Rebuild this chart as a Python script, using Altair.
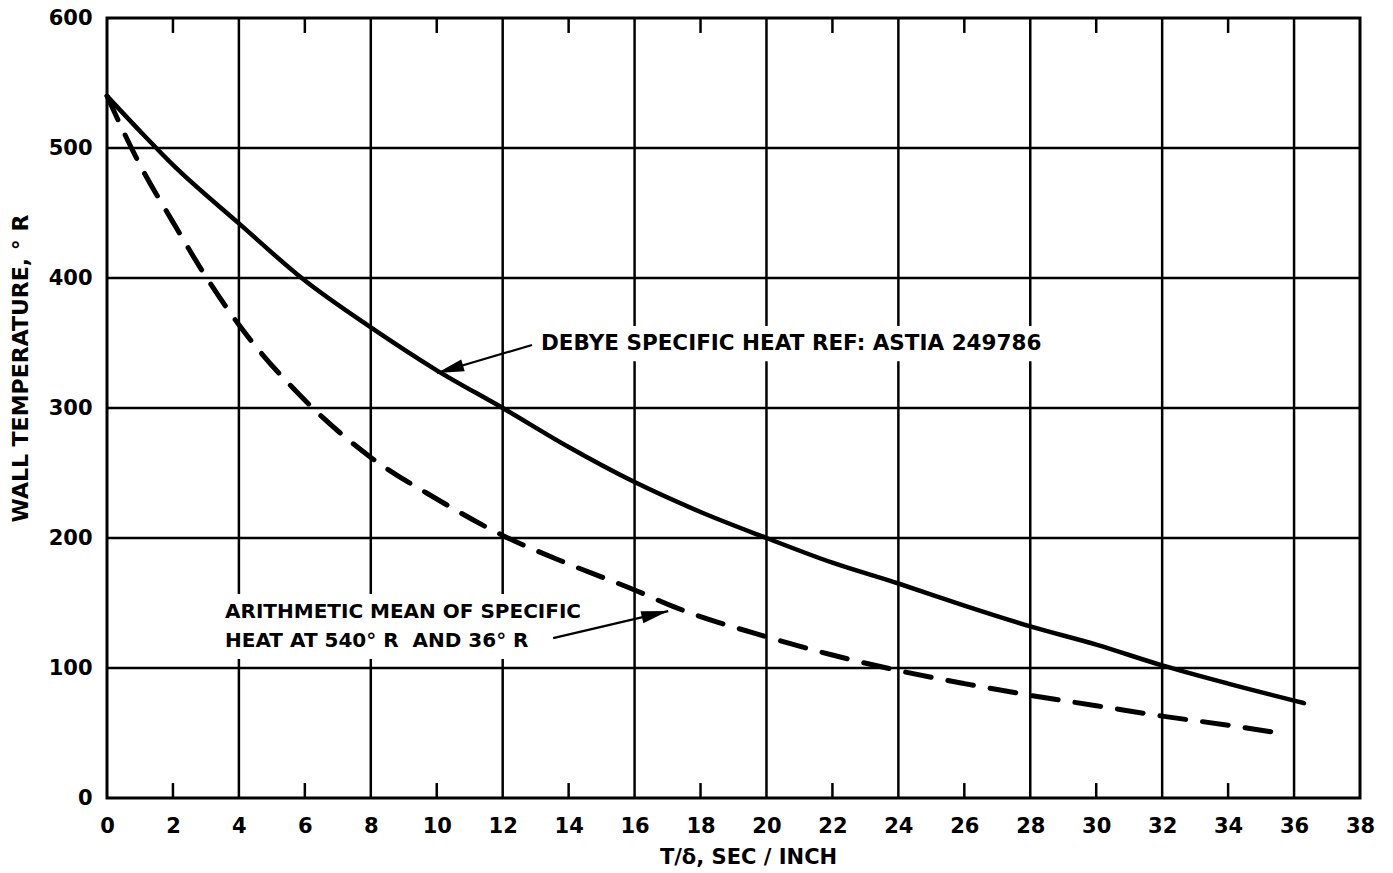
import math
import altair as alt
import pandas as pd

# Wall temperature vs. T/delta, two specific-heat models
x_debye = [0, 1, 2, 4, 6, 8, 10, 12, 14, 16, 18, 20, 22, 24, 26, 28, 30, 32, 34, 36.3]
t_debye = [540, 513, 487, 442, 398, 362, 329, 300, 270, 243, 220, 200, 181, 165, 148, 132, 118, 102, 88, 73]

x_mean = [0, 1, 2, 3, 4, 6, 8, 10, 12, 14, 16, 17.2, 20, 22, 24, 26, 28, 30, 32, 34, 35.8]
t_mean = [540, 487, 443, 401, 364, 306, 262, 230, 202, 180, 160, 147, 124, 110, 98, 88, 79, 71, 63, 56, 49]

# Grid and tick layout
x_ticks = list(range(0, 39, 2))
y_ticks = list(range(0, 601, 100))
x_grid = list(range(4, 37, 4))
y_grid = list(range(100, 501, 100))
x_minor = list(range(2, 35, 4))
minor_len = 11.5

# Annotations
debye_label = "DEBYE SPECIFIC HEAT REF: ASTIA 249786"
mean_label = ["ARITHMETIC MEAN OF SPECIFIC", "HEAT AT 540° R\u00a0\u00a0AND 36° R"]

W, H = 1253, 780
X_MAX, Y_MAX = 38, 600
FONT = "DejaVu Sans"

xs = alt.Scale(domain=[0, X_MAX], nice=False, zero=False)
ys = alt.Scale(domain=[0, Y_MAX], nice=False, zero=False)

x_axis = alt.Axis(values=x_ticks, grid=False, ticks=False, tickSize=0, domain=False,
                  labelPadding=34, labelBaseline="alphabetic", labelFlush=False,
                  labelOverlap=False, labelFont=FONT, labelFontWeight="bold",
                  labelFontSize=21, labelColor="black",
                  title="T/δ, SEC / INCH", titleFont=FONT, titleFontWeight="bold",
                  titleFontSize=21, titleColor="black", titleX=641, titleY=65,
                  titleBaseline="alphabetic", titleAlign="center")
y_axis = alt.Axis(values=y_ticks, grid=False, ticks=False, tickSize=0, domain=False,
                  labelPadding=15, labelFlush=False, labelOverlap=False,
                  labelFont=FONT, labelFontWeight="bold", labelFontSize=21,
                  labelColor="black",
                  title="WALL TEMPERATURE, ° R", titleFont=FONT, titleFontWeight="bold",
                  titleFontSize=22, titleColor="black", titleX=-80, titleY=350,
                  titleBaseline="alphabetic", titleAlign="center", titleAngle=270)

debye_df = pd.DataFrame({"x": x_debye, "t": t_debye})
mean_df = pd.DataFrame({"x": x_mean, "t": t_mean})

solid = alt.Chart(debye_df).mark_line(
    color="black", strokeWidth=4.5, strokeCap="round", interpolate="monotone"
).encode(x=alt.X("x:Q", scale=xs, axis=x_axis), y=alt.Y("t:Q", scale=ys, axis=y_axis))

dashed = alt.Chart(mean_df).mark_line(
    color="black", strokeWidth=5, strokeCap="round", strokeDash=[26, 17], interpolate="monotone"
).encode(x=alt.X("x:Q", scale=xs), y=alt.Y("t:Q", scale=ys))

vgrid = alt.Chart(pd.DataFrame({"x": x_grid})).mark_rule(color="black", strokeWidth=2.5).encode(
    x=alt.X("x:Q", scale=xs))
hgrid = alt.Chart(pd.DataFrame({"t": y_grid})).mark_rule(color="black", strokeWidth=2.5).encode(
    y=alt.Y("t:Q", scale=ys))

ticks_df = pd.DataFrame(
    {"x": x_minor * 2,
     "t": [0] * len(x_minor) + [Y_MAX] * len(x_minor),
     "t2": [minor_len] * len(x_minor) + [Y_MAX - minor_len] * len(x_minor)}
)
minor = alt.Chart(ticks_df).mark_rule(color="black", strokeWidth=2.5).encode(
    x=alt.X("x:Q", scale=xs), y=alt.Y("t:Q", scale=ys), y2="t2:Q")

# White boxes behind the annotation text
boxes = alt.Chart(pd.DataFrame({
    "x": [12.95, 3.45], "x2": [28.8, 13.95],
    "t": [336, 107], "t2": [363, 157]})).mark_rect(color="white").encode(
    x=alt.X("x:Q", scale=xs), x2="x2:Q",
    y=alt.Y("t:Q", scale=ys), y2="t2:Q")

# Leader arrows: start -> tip
arrows = pd.DataFrame({
    "x": [12.89, 13.53], "t": [348.5, 123.0],
    "x2": [10.01, 17.02], "t2": [326.9, 143.8]})
px_x, px_y = W / X_MAX, H / Y_MAX
arrows["ang"] = [
    math.degrees(math.atan2((r.x2 - r.x) * px_x, (r.t2 - r.t) * px_y)) % 360
    for r in arrows.itertuples()
]

leaders = alt.Chart(arrows).mark_rule(color="black", strokeWidth=2.2).encode(
    x=alt.X("x:Q", scale=xs), x2="x2:Q",
    y=alt.Y("t:Q", scale=ys), y2="t2:Q")

heads = alt.Chart(arrows).mark_point(
    shape="M0,0 L0.45,2 L-0.45,2 Z", filled=True, color="black", opacity=1, size=729, strokeWidth=0
).encode(
    x=alt.X("x2:Q", scale=xs),
    y=alt.Y("t2:Q", scale=ys),
    angle=alt.Angle("ang:Q", scale=None))

labels_df = pd.DataFrame({
    "x": [13.16, 3.58, 3.58],
    "t": [344.5, 138.5, 116.0],
    "txt": [debye_label] + mean_label,
    "fs": [21.5, 20, 20]})
labels = alt.Chart(labels_df).mark_text(
    align="left", baseline="alphabetic", font=FONT, fontWeight="bold", color="black"
).encode(
    x=alt.X("x:Q", scale=xs),
    y=alt.Y("t:Q", scale=ys),
    size=alt.Size("fs:Q", scale=None),
    text="txt:N")

chart = alt.layer(
    solid, vgrid, hgrid, minor, boxes, dashed, leaders, heads, labels
).properties(
    width=W, height=H,
    autosize=alt.AutoSizeParams(type="none"),
    padding={"left": 107, "top": 18, "right": 33, "bottom": 75},
    background="white",
).configure_view(stroke="black", strokeWidth=3)

chart.save("out.html", embed_options={"renderer": "svg", "actions": False})
